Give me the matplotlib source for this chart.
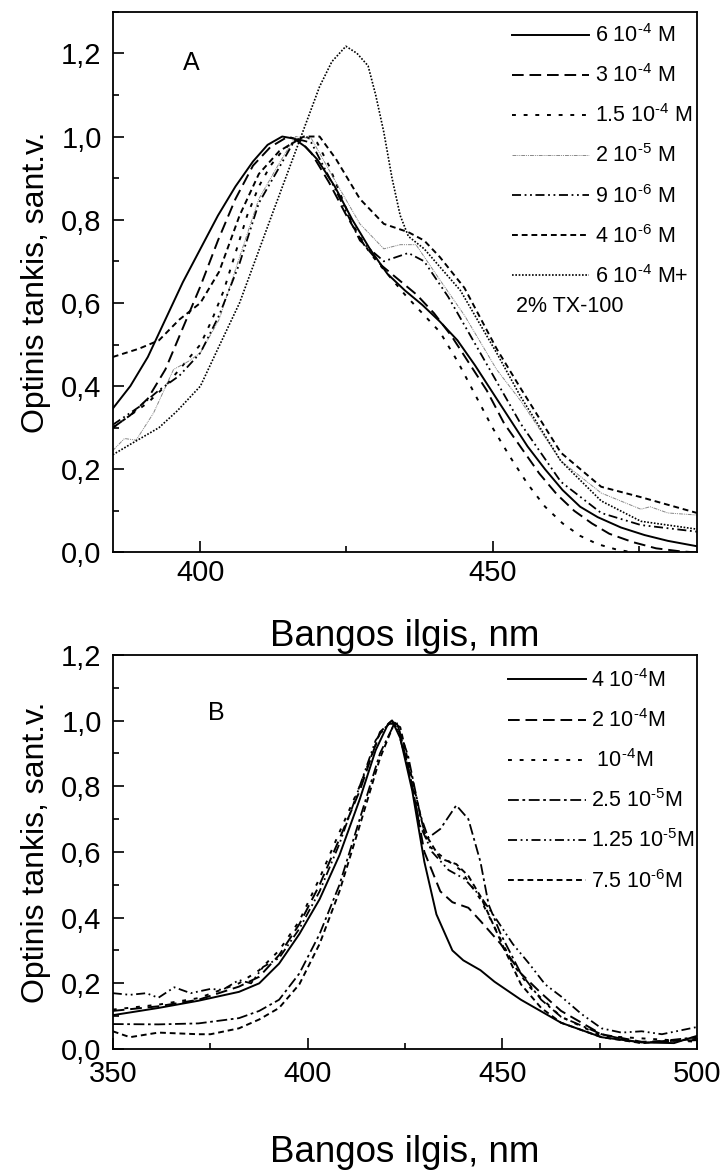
import numpy as np
import matplotlib
matplotlib.use("Agg")
import matplotlib.pyplot as plt
from matplotlib.ticker import MultipleLocator, FuncFormatter

plt.rcParams['font.family'] = ['Liberation Sans', 'DejaVu Sans']
plt.rcParams['mathtext.default'] = 'regular'

# ---- Panel A data (wavelength nm, optical density) ----
a_labels = ["6 10$^{\u20104}$ M", "3 10$^{\u20104}$ M", "1.5 10$^{\u20104}$ M", "2 10$^{\u20105}$ M",
            "9 10$^{\u20106}$ M", "4 10$^{\u20106}$ M", "6 10$^{\u20104}$ M+"]

a1_x = [385, 388, 391, 394, 397, 400, 403, 406, 409, 411.5, 414, 416, 418, 420, 423, 426, 429, 432, 435, 438,
        441, 444, 447, 450, 453, 456, 459, 462, 465, 468, 472, 476, 480, 485]
a1_y = [0.346, 0.40, 0.47, 0.56, 0.65, 0.73, 0.81, 0.88, 0.94, 0.98, 1.0, 0.995, 0.975, 0.945, 0.88, 0.80, 0.73,
        0.67, 0.63, 0.595, 0.555, 0.51, 0.45, 0.385, 0.32, 0.255, 0.20, 0.15, 0.11, 0.085, 0.06, 0.042, 0.028, 0.015]

a2_x = [385, 388, 391, 394, 397, 400, 403, 406, 409, 412, 415, 417, 419, 422, 425, 428, 431, 434, 437, 440,
        443, 446, 449, 452, 455, 458, 461, 464, 467, 470, 474, 478, 482, 485]
a2_y = [0.30, 0.33, 0.37, 0.44, 0.54, 0.64, 0.75, 0.85, 0.93, 0.975, 1.0, 0.99, 0.96, 0.89, 0.81, 0.74, 0.69,
        0.655, 0.62, 0.575, 0.52, 0.455, 0.39, 0.31, 0.25, 0.19, 0.14, 0.10, 0.07, 0.045, 0.025, 0.01, 0.003, 0.0]

a3_x = [385, 388, 391, 394, 397, 400, 402, 404, 406, 408, 410, 412, 414, 416, 418, 420, 422, 424, 426, 429,
        432, 435, 438, 441, 444, 447, 450, 453, 456, 459, 462, 465, 468, 471, 474, 476]
a3_y = [0.30, 0.33, 0.36, 0.40, 0.45, 0.50, 0.56, 0.63, 0.72, 0.81, 0.88, 0.93, 0.965, 0.99, 1.0, 0.985, 0.93,
        0.86, 0.79, 0.72, 0.67, 0.62, 0.575, 0.53, 0.46, 0.38, 0.30, 0.23, 0.165, 0.11, 0.07, 0.04, 0.02, 0.008,
        0.0, 0.0]

a4_x = [385, 387, 389, 392, 395.4, 398, 400, 403.2, 406.7, 410, 413.5, 416.3, 419, 423.2, 427.3, 431.4, 434.2,
        436.9, 441, 445.2, 450.7, 454.8, 461.7, 468.6, 475.4, 477, 480, 485]
a4_y = [0.245, 0.274, 0.27, 0.336, 0.44, 0.46, 0.48, 0.56, 0.71, 0.85, 0.936, 1.0, 0.995, 0.89, 0.79, 0.73,
        0.74, 0.74, 0.655, 0.57, 0.44, 0.365, 0.22, 0.143, 0.104, 0.11, 0.095, 0.09]

a5_x = [385, 389.5, 392.9, 396.4, 400, 403.2, 406.7, 410, 413.5, 416.3, 419, 423.2, 427.3, 431.4, 435.6, 438.3,
        442.4, 447.9, 454.8, 461.7, 468.6, 475.4, 485]
a5_y = [0.307, 0.35, 0.39, 0.425, 0.48, 0.57, 0.695, 0.84, 0.926, 0.995, 0.985, 0.87, 0.75, 0.70, 0.72, 0.70,
        0.615, 0.48, 0.31, 0.17, 0.095, 0.066, 0.05]

a6_x = [385, 389.5, 392.9, 396.4, 400, 403.2, 406.7, 410, 413.5, 417.7, 420.4, 423.2, 427.3, 431.4, 435.6,
        438.3, 441, 445.2, 450.7, 454.8, 461.7, 468.6, 475.4, 485]
a6_y = [0.47, 0.49, 0.51, 0.56, 0.60, 0.675, 0.81, 0.91, 0.965, 1.0, 1.0, 0.946, 0.85, 0.79, 0.77, 0.75, 0.71,
        0.636, 0.49, 0.395, 0.24, 0.158, 0.133, 0.095]

a7_x = [385, 388, 392.9, 396, 400, 403, 406.7, 412.2, 416.3, 420.4, 422.5, 424.9, 426.8, 428.7, 430, 431.4,
        432.8, 434.2, 435.6, 438.3, 444.5, 450.7, 454.8, 461.7, 468.6, 475.4, 485]
a7_y = [0.235, 0.26, 0.30, 0.34, 0.40, 0.49, 0.60, 0.81, 0.965, 1.12, 1.18, 1.217, 1.20, 1.17, 1.10, 1.01,
        0.90, 0.81, 0.76, 0.73, 0.63, 0.48, 0.375, 0.22, 0.124, 0.075, 0.056]

# ---- Panel B data ----
b_labels = ["4 10$^{\u20104}$M", "2 10$^{\u20104}$M", " 10$^{\u20104}$M", "2.5 10$^{\u20105}$M",
            "1.25 10$^{\u20105}$M", "7.5 10$^{\u20106}$M"]

b1_x = [350, 361.7, 372, 382.4, 387.6, 392.7, 397.9, 403.1, 408.2, 413.4, 417.5, 420.7, 421.7, 423.8, 426.9,
        430, 433.1, 437.2, 440, 444.4, 448, 454.8, 465.1, 475.5, 485.8, 494.1, 500]
b1_y = [0.103, 0.125, 0.147, 0.174, 0.20, 0.26, 0.35, 0.456, 0.59, 0.76, 0.91, 0.99, 1.0, 0.947, 0.786, 0.57,
        0.41, 0.30, 0.27, 0.24, 0.205, 0.15, 0.08, 0.036, 0.02, 0.018, 0.04]

b2_x = [350, 361.7, 372, 382.4, 387.6, 392.7, 397.9, 403.1, 408.2, 413.4, 418.6, 421.7, 423.8, 426.9, 430,
        434.1, 437.2, 441.3, 444.4, 449.6, 454.8, 460, 465.1, 475.5, 485.8, 500]
b2_y = [0.116, 0.13, 0.15, 0.19, 0.22, 0.286, 0.38, 0.50, 0.64, 0.786, 0.965, 1.0, 0.96, 0.80, 0.60, 0.48,
        0.447, 0.43, 0.39, 0.32, 0.23, 0.17, 0.116, 0.045, 0.022, 0.027]

b3_x = [350, 361.7, 372, 382.4, 387.6, 392.7, 397.9, 403.1, 408.2, 413.4, 418.6, 421.7, 423.8, 426.9, 431,
        434.1, 439.3, 444.4, 448.6, 452.7, 456.9, 465.1, 475.5, 500]
b3_y = [0.12, 0.135, 0.155, 0.20, 0.24, 0.30, 0.39, 0.52, 0.66, 0.80, 0.96, 1.0, 0.96, 0.80, 0.62, 0.59, 0.545,
        0.456, 0.357, 0.26, 0.19, 0.098, 0.04, 0.022]

b4_x = [350, 361.7, 372, 382.4, 387.6, 392.7, 397.9, 403.1, 408.2, 413.4, 418.6, 422.7, 425.8, 428.9, 431,
        434.1, 438.2, 441.3, 444.4, 446.5, 449.6, 454.8, 460, 465.1, 475.5, 485.8, 500]
b4_y = [0.076, 0.075, 0.078, 0.094, 0.116, 0.15, 0.23, 0.35, 0.50, 0.70, 0.90, 1.0, 0.894, 0.715, 0.643, 0.67,
        0.742, 0.70, 0.57, 0.44, 0.35, 0.23, 0.15, 0.098, 0.045, 0.018, 0.036]

b5_x = [350, 354.4, 358.6, 361.7, 365.8, 370, 375.1, 378.2, 382.4, 385.5, 388.6, 392.7, 397.9, 403.1, 408.2,
        413.4, 417.5, 420.7, 422.7, 425.8, 428.9, 432, 436.2, 440.3, 444.4, 448.6, 452.7, 456.9, 461, 465.1,
        470.3, 475.5, 480.6, 485.8, 491, 500]
b5_y = [0.17, 0.165, 0.17, 0.156, 0.188, 0.17, 0.183, 0.18, 0.21, 0.20, 0.25, 0.277, 0.366, 0.48, 0.625, 0.80,
        0.94, 0.99, 0.99, 0.86, 0.68, 0.60, 0.545, 0.518, 0.465, 0.393, 0.32, 0.26, 0.197, 0.16, 0.107, 0.063,
        0.05, 0.054, 0.045, 0.067]

b6_x = [350, 354.4, 361.7, 372, 375.1, 382.4, 387.6, 392.7, 397.9, 403.1, 408.2, 413.4, 418.6, 422.2, 423.8,
        426.9, 430, 434.1, 438.2, 441.3, 444.4, 447.5, 450.7, 454.8, 460, 465.1, 475.5, 485.8, 500]
b6_y = [0.054, 0.036, 0.05, 0.045, 0.045, 0.063, 0.09, 0.125, 0.197, 0.32, 0.48, 0.68, 0.885, 0.99, 0.98, 0.82,
        0.66, 0.58, 0.563, 0.527, 0.465, 0.384, 0.30, 0.197, 0.125, 0.08, 0.036, 0.018, 0.031]

# line styles (Origin-like)
a_styles = [
    dict(ls='-', color='black', lw=1.4),
    dict(ls=(0, (6, 3)), color='black', lw=1.4),
    dict(ls=(0, (2, 4)), color='black', lw=1.4),
    dict(ls=(0, (4, 1, 1, 1, 1, 1)), color='#888888', lw=0.7),
    dict(ls=(0, (5, 2, 1, 2, 1, 2)), color='black', lw=1.3),
    dict(ls=(0, (3, 2)), color='black', lw=1.4),
    dict(ls=(0, (1, 1)), color='black', lw=1.2),
]
b_styles = [
    dict(ls='-', color='black', lw=1.4),
    dict(ls=(0, (6, 3)), color='black', lw=1.4),
    dict(ls=(0, (2, 4)), color='black', lw=1.4),
    dict(ls=(0, (6, 2, 1.5, 2)), color='black', lw=1.3),
    dict(ls=(0, (5, 2, 1, 2, 1, 2)), color='black', lw=1.3),
    dict(ls=(0, (3, 2)), color='black', lw=1.4),
]

comma = FuncFormatter(lambda v, p: f"{v:.1f}".replace('.', ','))


def style_axes(ax, xpad, xtickpad):
    ax.tick_params(which='both', direction='in', labelsize=21, width=1.2)
    ax.tick_params(axis='y', which='both', pad=8)
    ax.tick_params(axis='x', which='both', pad=xtickpad)
    ax.tick_params(which='major', length=8)
    ax.tick_params(which='minor', length=4)
    for s in ax.spines.values():
        s.set_linewidth(1.3)
    ax.yaxis.set_major_locator(MultipleLocator(0.2))
    ax.yaxis.set_minor_locator(MultipleLocator(0.1))
    ax.yaxis.set_major_formatter(comma)
    ax.set_ylabel("Optinis tankis, sant.v.", fontsize=23, labelpad=7)
    ax.set_xlabel("Bangos ilgis, nm", fontsize=26.5, labelpad=xpad)


leg_kw = dict(loc='upper right', frameon=False, fontsize=15.5, handlelength=3.6, handletextpad=0.25,
              labelspacing=0.8, borderaxespad=0.0, borderpad=0.2)

fig = plt.figure(figsize=(7.23, 11.73), dpi=100)

# Panel A
axA = fig.add_axes([0.156, 0.529, 0.808, 0.461])
a_data = [(a1_x, a1_y), (a2_x, a2_y), (a3_x, a3_y), (a4_x, a4_y), (a5_x, a5_y), (a6_x, a6_y), (a7_x, a7_y)]
for (x, y), lab, st in zip(a_data, a_labels, a_styles):
    axA.plot(x, y, label=lab, **st)
axA.set_xlim(385, 485)
axA.set_ylim(0, 1.3)
axA.xaxis.set_major_locator(MultipleLocator(50))
axA.xaxis.set_minor_locator(MultipleLocator(25))
style_axes(axA, 23, 5)
axA.text(0.135, 0.905, "A", transform=axA.transAxes, fontsize=18, ha='center', va='center')
axA.legend(bbox_to_anchor=(1.0, 0.985), **leg_kw)
axA.text(0.69, 0.455, "2% TX-100", transform=axA.transAxes, fontsize=15.5, ha='left', va='center')

# Panel B
axB = fig.add_axes([0.156, 0.1057, 0.808, 0.336])
b_data = [(b1_x, b1_y), (b2_x, b2_y), (b3_x, b3_y), (b4_x, b4_y), (b5_x, b5_y), (b6_x, b6_y)]
for (x, y), lab, st in zip(b_data, b_labels, b_styles):
    axB.plot(x, y, label=lab, **st)
axB.set_xlim(350, 500)
axB.set_ylim(0, 1.2)
axB.xaxis.set_major_locator(MultipleLocator(50))
axB.xaxis.set_minor_locator(MultipleLocator(25))
style_axes(axB, 34, 8)
axB.text(0.178, 0.853, "B", transform=axB.transAxes, fontsize=18, ha='center', va='center')
axB.legend(bbox_to_anchor=(1.004, 0.975), **leg_kw)

fig.savefig("out.png", dpi=100)
